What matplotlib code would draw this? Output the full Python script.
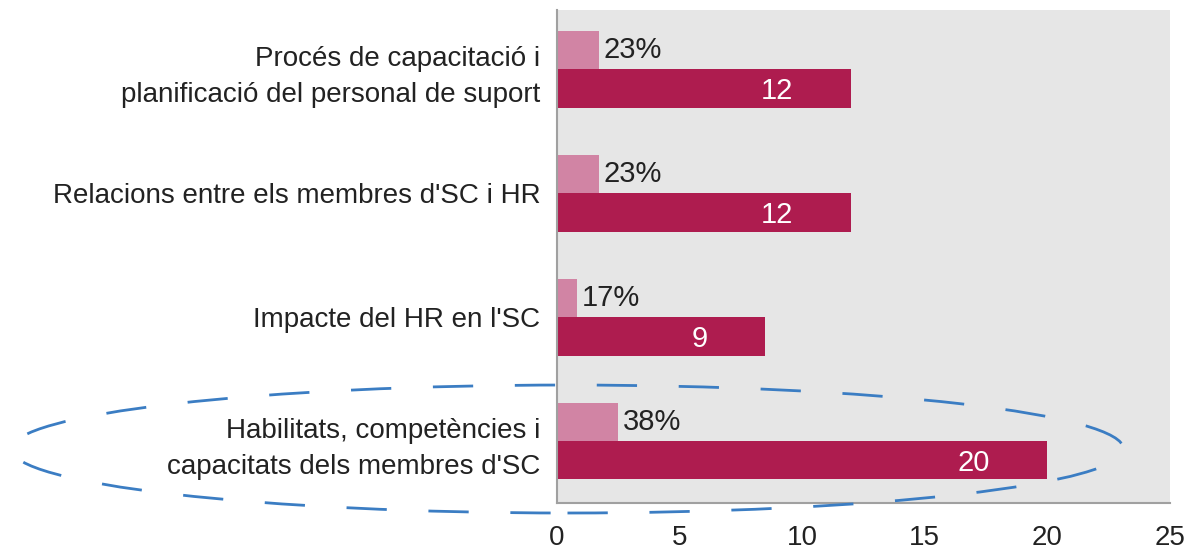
import matplotlib.pyplot as plt
from matplotlib.patches import Ellipse

# data, bottom to top
categories = [
    "Habilitats, competències i\ncapacitats dels membres d'SC",
    "Impacte del HR en l'SC",
    "Relacions entre els membres d'SC i HR",
    "Procés de capacitació i\nplanificació del personal de suport",
]
counts = [20, 8.5, 12, 12]
count_labels = ["20", "9", "12", "12"]
share = [2.5, 0.8, 1.7, 1.7]
share_labels = ["38%", "17%", "23%", "23%"]

dark = "#AE1C4F"
light = "#D184A4"
txt = "#222222"

plt.rcParams["font.family"] = ["Liberation Sans", "DejaVu Sans"]

fig = plt.figure(figsize=(11.96, 5.54), dpi=100)
ax = fig.add_axes([0.4657, 0.092, 0.5126, 0.890])
ax.set_facecolor("#E6E6E6")

ypos = list(range(len(categories)))
h = 0.31
ax.barh([y + h / 2 for y in ypos], share, height=h, color=light)
ax.barh([y - h / 2 for y in ypos], counts, height=h, color=dark)

for y, v, lab in zip(ypos, share, share_labels):
    ax.text(v + 0.2, y + h / 2, lab, va="center", ha="left",
            fontsize=21, color=txt)
for y, v, lab in zip(ypos, counts, count_labels):
    ax.text(v - 2.35, y - h / 2 - 0.02, lab, va="center", ha="right",
            fontsize=21, color="white")

ax.set_xlim(0, 25)
ax.set_ylim(-0.5, 3.48)
ax.set_xticks([0, 5, 10, 15, 20, 25])
ax.set_yticks(ypos)
ax.set_yticklabels(categories, linespacing=1.5)
ax.tick_params(axis="y", length=0, pad=12, labelsize=20, labelcolor=txt)
ax.tick_params(axis="x", length=0, pad=16, labelsize=20, labelcolor=txt)
for lab in ax.get_yticklabels():
    lab.set_horizontalalignment("right")

for s in ["top", "right"]:
    ax.spines[s].set_visible(False)
ax.spines["left"].set_color("#A0A0A0")
ax.spines["bottom"].set_color("#A0A0A0")
ax.spines["left"].set_linewidth(1.5)
ax.spines["bottom"].set_linewidth(1.5)

# dashed highlight around the last category
ell = Ellipse((0.4745, 0.1895), 0.930, 0.231, transform=fig.transFigure,
              fill=False, edgecolor="#3B7DC3", linewidth=2.0,
              linestyle=(0, (14.5, 15)), zorder=10)
fig.patches.append(ell)

fig.savefig("out.png", dpi=100)
